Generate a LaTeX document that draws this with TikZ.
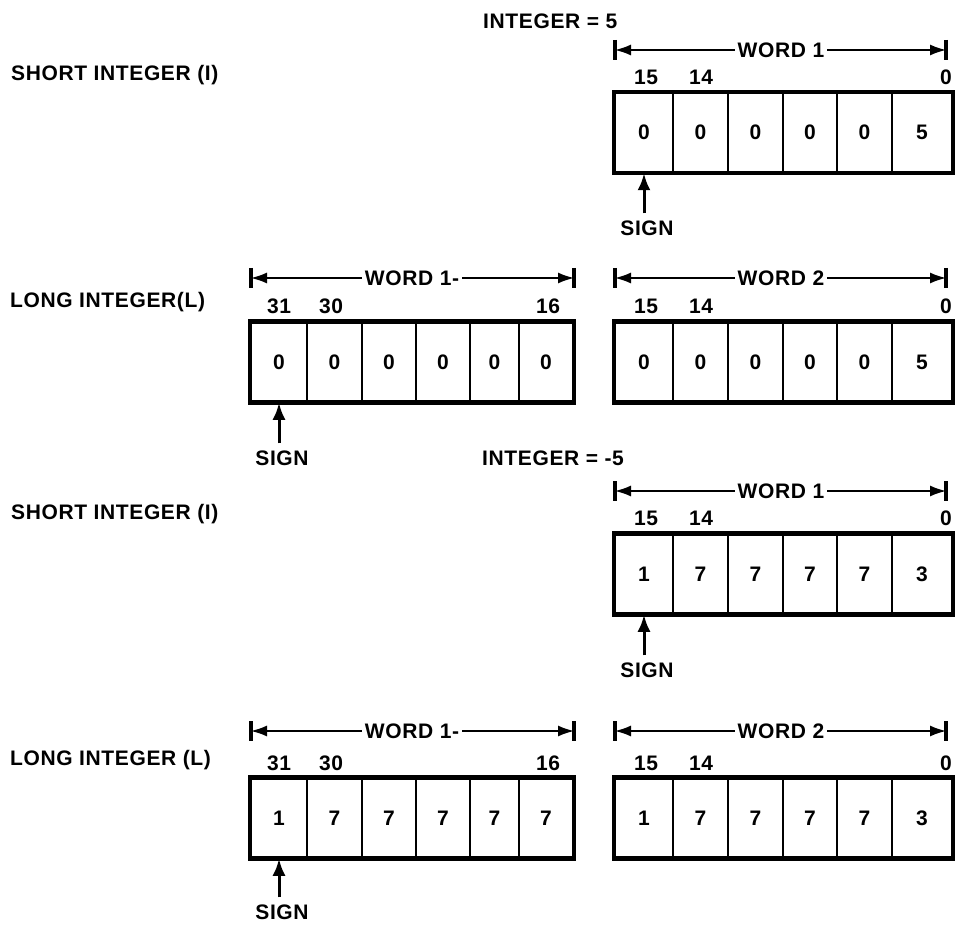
\documentclass[tikz,border=0pt]{standalone}
\usepackage{fontspec}
\setmainfont{Liberation Sans}[LetterSpace=3]
\usetikzlibrary{arrows.meta}
\begin{document}
\begin{tikzpicture}[x=1pt,y=-1pt,
  txt/.style={font=\fontsize{21}{24}\selectfont\bfseries, inner sep=0pt},
  cellbox/.style={draw, line width=2.5pt, minimum height=79pt, inner sep=0pt,
    font=\fontsize{21}{24}\selectfont\bfseries},
  outerbox/.style={line width=4pt},
  wordline/.style={line width=1.5pt, {Latex[length=16pt,width=11pt]}-{Latex[length=16pt,width=11pt]}},
  wbar/.style={line width=4pt},
  wlabel/.style={txt, fill=white, inner xsep=3pt, inner ysep=1pt},
  signarr/.style={line width=3pt, -{Latex[length=17pt,width=13pt]}},
]
\useasboundingbox (0,0) rectangle (956,925);

% ---------------- titles ----------------
\node[txt, anchor=west] (int5) at (483,21) {INTEGER = 5};
\node[txt, anchor=west] (intm5) at (482,458) {INTEGER = -5};
\node[txt, anchor=west] (lab1) at (11,75) {SHORT INTEGER (I)};
\node[txt, anchor=west] (lab2) at (10,302) {LONG INTEGER(L)};
\node[txt, anchor=west] (lab3) at (11,514) {SHORT INTEGER (I)};
\node[txt, anchor=west] (lab4) at (10,760) {LONG INTEGER (L)};

% ---------------- row 1 ----------------
\foreach \cx/\w/\v [count=\i] in {644/58/0,700.5/55/0,755.5/55/0,810/54/0,864.5/55/0,922/60/5}
  {\node[cellbox, minimum width=\w pt] (a\i) at (\cx,132.5) {\v};}
\draw[outerbox] (a1.north west) rectangle (a6.south east);
\coordinate (aL) at (615,50); \coordinate (aR) at (946,50);
\draw[wbar] ([yshift=10pt]aL) -- ([yshift=-10pt]aL);
\draw[wbar] ([yshift=10pt]aR) -- ([yshift=-10pt]aR);
\draw[wordline] (aL) -- (aR);
\node[wlabel] (aw) at (781,50) {WORD 1};
\node[txt] (ab15) at (646,77) {15};
\node[txt] (ab14) at (701,77) {14};
\node[txt, anchor=east] (ab0) at (952,77) {0};
\node[txt] (as) at (647,228) {SIGN};
\coordinate (ast) at ([yshift=7pt]as.north);
\draw[signarr] (ast -| a1) -- (a1.south);

% ---------------- row 2 ----------------
\foreach \cx/\w/\v [count=\i] in {279/56/0,334.5/55/0,389/54/0,443/54/0,494.5/49/0,546/54/0}
  {\node[cellbox, minimum width=\w pt] (b\i) at (\cx,362) {\v};}
\draw[outerbox] (b1.north west) rectangle (b6.south east);
\foreach \cx/\w/\v [count=\i] in {644/58/0,700.5/55/0,755.5/55/0,810/54/0,864.5/55/0,922/60/5}
  {\node[cellbox, minimum width=\w pt] (c\i) at (\cx,362) {\v};}
\draw[outerbox] (c1.north west) rectangle (c6.south east);
\coordinate (bL) at (251,278); \coordinate (bR) at (574,278);
\draw[wbar] ([yshift=10pt]bL) -- ([yshift=-10pt]bL);
\draw[wbar] ([yshift=10pt]bR) -- ([yshift=-10pt]bR);
\draw[wordline] (bL) -- (bR);
\node[wlabel] (bw) at (412,278) {WORD 1-};
\coordinate (cL) at (615,278); \coordinate (cR) at (946,278);
\draw[wbar] ([yshift=10pt]cL) -- ([yshift=-10pt]cL);
\draw[wbar] ([yshift=10pt]cR) -- ([yshift=-10pt]cR);
\draw[wordline] (cL) -- (cR);
\node[wlabel] (cw) at (781,278) {WORD 2};
\node[txt] (bb31) at (279,306) {31};
\node[txt] (bb30) at (331,306) {30};
\node[txt] (bb16) at (548,306) {16};
\node[txt] (cb15) at (646,306) {15};
\node[txt] (cb14) at (701,306) {14};
\node[txt, anchor=east] (cb0) at (952,306) {0};
\node[txt] (bs) at (282,458) {SIGN};
\coordinate (bst) at ([yshift=7pt]bs.north);
\draw[signarr] (bst -| b1) -- (b1.south);

% ---------------- row 3 ----------------
\foreach \cx/\w/\v [count=\i] in {644/58/1,700.5/55/7,755.5/55/7,810/54/7,864.5/55/7,922/60/3}
  {\node[cellbox, minimum width=\w pt] (d\i) at (\cx,574) {\v};}
\draw[outerbox] (d1.north west) rectangle (d6.south east);
\coordinate (dL) at (615,491); \coordinate (dR) at (946,491);
\draw[wbar] ([yshift=10pt]dL) -- ([yshift=-10pt]dL);
\draw[wbar] ([yshift=10pt]dR) -- ([yshift=-10pt]dR);
\draw[wordline] (dL) -- (dR);
\node[wlabel] (dw) at (781,491) {WORD 1};
\node[txt] (db15) at (646,518) {15};
\node[txt] (db14) at (701,518) {14};
\node[txt, anchor=east] (db0) at (952,518) {0};
\node[txt] (ds) at (647,670) {SIGN};
\coordinate (dst) at ([yshift=7pt]ds.north);
\draw[signarr] (dst -| d1) -- (d1.south);

% ---------------- row 4 ----------------
\foreach \cx/\w/\v [count=\i] in {279/56/1,334.5/55/7,389/54/7,443/54/7,494.5/49/7,546/54/7}
  {\node[cellbox, minimum width=\w pt] (e\i) at (\cx,818) {\v};}
\draw[outerbox] (e1.north west) rectangle (e6.south east);
\foreach \cx/\w/\v [count=\i] in {644/58/1,700.5/55/7,755.5/55/7,810/54/7,864.5/55/7,922/60/3}
  {\node[cellbox, minimum width=\w pt] (f\i) at (\cx,818) {\v};}
\draw[outerbox] (f1.north west) rectangle (f6.south east);
\coordinate (eL) at (251,731); \coordinate (eR) at (574,731);
\draw[wbar] ([yshift=10pt]eL) -- ([yshift=-10pt]eL);
\draw[wbar] ([yshift=10pt]eR) -- ([yshift=-10pt]eR);
\draw[wordline] (eL) -- (eR);
\node[wlabel] (ew) at (412,731) {WORD 1-};
\coordinate (fL) at (615,731); \coordinate (fR) at (946,731);
\draw[wbar] ([yshift=10pt]fL) -- ([yshift=-10pt]fL);
\draw[wbar] ([yshift=10pt]fR) -- ([yshift=-10pt]fR);
\draw[wordline] (fL) -- (fR);
\node[wlabel] (fw) at (781,731) {WORD 2};
\node[txt] (eb31) at (279,763) {31};
\node[txt] (eb30) at (331,763) {30};
\node[txt] (eb16) at (548,763) {16};
\node[txt] (fb15) at (646,763) {15};
\node[txt] (fb14) at (701,763) {14};
\node[txt, anchor=east] (fb0) at (952,763) {0};
\node[txt] (es) at (282,912) {SIGN};
\coordinate (est) at ([yshift=7pt]es.north);
\draw[signarr] (est -| e1) -- (e1.south);
\end{tikzpicture}
\end{document}
